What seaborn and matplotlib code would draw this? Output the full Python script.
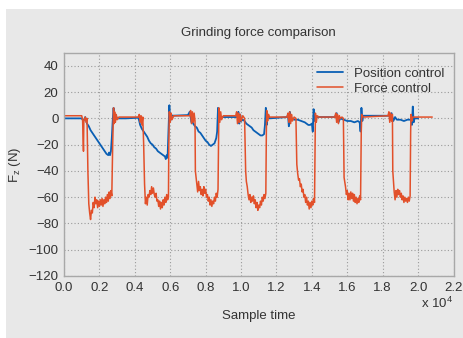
import numpy as np
import pandas as pd
import matplotlib
matplotlib.use("Agg")
import matplotlib.pyplot as plt
import seaborn as sns
from matplotlib.patches import Rectangle

# sample time in units of 1e4
position_x = [0.00, 0.10, 0.11, 0.12, 0.13, 0.14, 0.15, 0.16, 0.17, 0.18, 0.19, 0.20,
              0.21, 0.22, 0.23, 0.24, 0.25, 0.255, 0.26, 0.265, 0.27, 0.275, 0.28,
              0.285, 0.29, 0.30, 0.35, 0.42, 0.425, 0.43, 0.44, 0.45, 0.46, 0.47,
              0.48, 0.49, 0.50, 0.51, 0.52, 0.53, 0.54, 0.55, 0.56, 0.57, 0.575,
              0.58, 0.585, 0.59, 0.595, 0.60, 0.605, 0.61, 0.70, 0.71, 0.72, 0.725,
              0.73, 0.74, 0.75, 0.76, 0.77, 0.78, 0.79, 0.80, 0.81, 0.82, 0.83,
              0.84, 0.85, 0.86, 0.865, 0.87, 0.875, 0.88, 0.89, 0.98, 0.985, 0.99,
              0.995, 1.00, 1.01, 1.02, 1.03, 1.04, 1.05, 1.06, 1.07, 1.08, 1.09,
              1.10, 1.11, 1.12, 1.13, 1.135, 1.14, 1.145, 1.15, 1.16, 1.26, 1.265,
              1.27, 1.275, 1.28, 1.29, 1.30, 1.32, 1.34, 1.36, 1.38, 1.39, 1.40,
              1.405, 1.41, 1.415, 1.42, 1.53, 1.54, 1.55, 1.56, 1.58, 1.60, 1.62,
              1.64, 1.66, 1.67, 1.675, 1.68, 1.685, 1.69, 1.84, 1.85, 1.86, 1.87,
              1.88, 1.90, 1.92, 1.94, 1.96, 1.965, 1.97, 1.975, 1.98, 2.00]
position_y = [0, 0, -2, 1, -4, -6, -9, -11, -13, -15, -17, -19,
              -21, -23, -25, -27, -28, -26, -28, -25, -15, -2, 8,
              -2, 3, 0, 0, 0.5, -2, -5, -8, -10, -12, -14,
              -17, -19, -20, -22, -23, -25, -26, -27, -28, -29, -31,
              -28, -30, -10, 10, -2, 3, 2, 2.5, 5, -3, -2,
              -4, -6, -7, -10, -11, -13, -15, -17, -18, -20, -21,
              -20, -19, -15, -10, 8, -2, 2, 1, 1, 5, -4,
              3, -2, -1, -2, -4, -5, -6, -7, -9, -10, -11,
              -12, -13, -13, -12, -5, 8, -5, 3, 0, 1, 3,
              -6, 5, -2, 0, -1, -1, -2, -3, -5, -5, -4,
              -10, 7, -2, 1, 1, 4, -3, 0, -1, -2, -2,
              -3, -2, -3, -10, 8, -2, 2, 2, 4, -2, 1,
              -1, -1, -2, -1, -1, -5, 9, -3, 0, 0]

force_x = [0.00, 0.10, 0.105, 0.11, 0.112, 0.12, 0.125, 0.13, 0.135, 0.14, 0.145,
           0.15, 0.155, 0.16, 0.165, 0.17, 0.175, 0.18, 0.185, 0.19, 0.195, 0.20,
           0.205, 0.21, 0.215, 0.22, 0.225, 0.23, 0.235, 0.24, 0.245, 0.25, 0.255,
           0.26, 0.265, 0.27, 0.275, 0.28, 0.283, 0.286, 0.29, 0.295, 0.30, 0.31,
           0.42, 0.425, 0.43, 0.435, 0.44, 0.445, 0.45, 0.455, 0.46, 0.465, 0.47,
           0.475, 0.48, 0.485, 0.49, 0.495, 0.50, 0.505, 0.51, 0.515, 0.52, 0.525,
           0.53, 0.535, 0.54, 0.545, 0.55, 0.555, 0.56, 0.565, 0.57, 0.575, 0.58,
           0.585, 0.59, 0.592, 0.595, 0.60, 0.605, 0.61, 0.62, 0.71, 0.715, 0.72,
           0.725, 0.73, 0.735, 0.74, 0.742, 0.75, 0.755, 0.76, 0.765, 0.77, 0.775,
           0.78, 0.785, 0.79, 0.795, 0.80, 0.805, 0.81, 0.815, 0.82, 0.825, 0.83,
           0.835, 0.84, 0.845, 0.85, 0.855, 0.86, 0.865, 0.87, 0.873, 0.875, 0.88,
           0.885, 0.89, 0.90, 0.97, 0.975, 0.98, 0.985, 0.99, 0.995, 1.00, 1.01,
           1.02, 1.026, 1.03, 1.035, 1.04, 1.045, 1.05, 1.055, 1.06, 1.065, 1.07,
           1.075, 1.08, 1.085, 1.09, 1.095, 1.10, 1.105, 1.11, 1.115, 1.12, 1.125,
           1.13, 1.135, 1.14, 1.143, 1.145, 1.15, 1.155, 1.16, 1.26, 1.265, 1.27,
           1.275, 1.28, 1.285, 1.29, 1.30, 1.31, 1.315, 1.32, 1.325, 1.33, 1.335,
           1.34, 1.345, 1.35, 1.355, 1.36, 1.365, 1.37, 1.375, 1.38, 1.385, 1.39,
           1.395, 1.40, 1.405, 1.41, 1.415, 1.418, 1.42, 1.425, 1.43, 1.44, 1.53,
           1.535, 1.54, 1.545, 1.55, 1.555, 1.56, 1.57, 1.578, 1.582, 1.59, 1.595,
           1.60, 1.605, 1.61, 1.615, 1.62, 1.625, 1.63, 1.635, 1.64, 1.645, 1.65,
           1.655, 1.66, 1.665, 1.67, 1.675, 1.679, 1.682, 1.69, 1.83, 1.835, 1.84,
           1.845, 1.85, 1.855, 1.857, 1.865, 1.87, 1.875, 1.88, 1.885, 1.89, 1.895,
           1.90, 1.905, 1.91, 1.915, 1.92, 1.925, 1.93, 1.935, 1.94, 1.945, 1.95,
           1.955, 1.958, 1.96, 1.965, 1.97, 2.08]
force_y = [2, 2, -1, -25, -2, 1, -3, 0, -40, -65, -72,
           -77, -70, -72, -64, -68, -60, -65, -62, -68, -63, -67,
           -62, -66, -61, -67, -62, -65, -60, -64, -58, -63, -56,
           -61, -55, -59, -20, 8, -4, 5, -3, 3, -1, 1,
           1, 3, -3, 2, -5, 1, -20, -50, -65, -60, -66,
           -58, -60, -55, -58, -52, -57, -53, -58, -60, -57, -63,
           -62, -67, -63, -69, -64, -68, -62, -66, -60, -64, -58,
           -62, -60, -20, 5, -3, 4, -1, 2, 2, 6, -4,
           5, -3, 4, -2, -40, -50, -56, -48, -55, -52, -58,
           -54, -59, -52, -57, -54, -60, -58, -63, -60, -66, -62,
           -67, -63, -65, -60, -63, -57, -60, -54, -20, 8, -3,
           5, -1, 2, 2, 5, -4, 4, -3, 3, -2, 2,
           0, -40, -48, -52, -58, -62, -58, -64, -60, -63, -59,
           -65, -62, -68, -64, -70, -66, -68, -63, -66, -60, -63,
           -58, -61, -57, -10, 6, -2, 3, 1, 1, 4, -3,
           5, -4, 3, -2, 1, 0, -35, -42, -47, -46, -52,
           -50, -56, -54, -60, -58, -64, -60, -66, -63, -69, -64,
           -68, -63, -66, -61, -64, -20, 4, -3, 2, 1, 1,
           4, -3, 3, -4, 2, 0, 1, 0, -45, -52, -58,
           -55, -62, -57, -62, -56, -61, -57, -63, -58, -64, -60,
           -65, -61, -64, -59, -62, -10, 3, 1, 2, 5, -3,
           4, -2, 3, -40, -56, -62, -55, -60, -54, -58, -55,
           -60, -57, -62, -59, -64, -60, -63, -61, -64, -60, -63,
           -59, -10, 3, -2, 1, 1]

x_ticks = [0.0, 0.2, 0.4, 0.6, 0.8, 1.0, 1.2, 1.4, 1.6, 1.8, 2.0, 2.2]
y_ticks = [-120, -100, -80, -60, -40, -20, 0, 20, 40]

bg = "#e8e8e8"
txt = "#333333"
blue = "#0a5fb4"
orange = "#e2502a"

sns.set_style("ticks")
plt.rcParams["font.family"] = ["Liberation Sans", "DejaVu Sans"]

fig = plt.figure(figsize=(4.63, 3.38), dpi=100, facecolor="white")
fig.patches.append(Rectangle((6 / 463, 0), 1, 1 - 9 / 338, transform=fig.transFigure,
                             facecolor=bg, edgecolor="none", zorder=-10))
ax = fig.add_axes([64 / 463, 1 - 276 / 338, (453.5 - 64) / 463, (276 - 52.7) / 338])
ax.set_facecolor(bg)

pos = pd.DataFrame({"t": position_x, "f": position_y})
frc = pd.DataFrame({"t": force_x, "f": force_y})
sns.lineplot(data=pos, x="t", y="f", ax=ax, color=blue, lw=1.3, label="Position control",
             estimator=None, sort=False)
sns.lineplot(data=frc, x="t", y="f", ax=ax, color=orange, lw=1.1, label="Force control",
             estimator=None, sort=False)

ax.set_xlim(0, 2.2)
ax.set_ylim(-120, 50)
ax.set_xticks(x_ticks)
ax.set_xticklabels([f"{v:.1f}" for v in x_ticks])
ax.set_yticks(y_ticks)
ax.grid(True, color="#9a9a9a", linestyle=(0, (1, 2)), lw=0.8)
for s in ax.spines.values():
    s.set_color("#a8a8a8")
    s.set_linewidth(1.0)
ax.tick_params(length=0, labelsize=9.5, colors=txt, pad=4)

ax.set_title("Grinding force comparison", fontsize=9.5, color=txt, pad=12)
ax.set_xlabel("Sample time", fontsize=9.5, color=txt, labelpad=12)
ax.set_ylabel("F$_\\mathregular{z}$ (N)", fontsize=9.5, color=txt, labelpad=4)
ax.text(1.0, -0.09, "x 10$^\\mathregular{4}$", transform=ax.transAxes, ha="right", va="top",
        fontsize=9.5, color=txt)

leg = ax.legend(loc="upper right", frameon=False, fontsize=9.5, handlelength=2.0,
                borderaxespad=0.3, labelspacing=0.2, bbox_to_anchor=(1.0, 0.975))
for t in leg.get_texts():
    t.set_color(txt)

fig.savefig("out.png", dpi=100, facecolor="white")
